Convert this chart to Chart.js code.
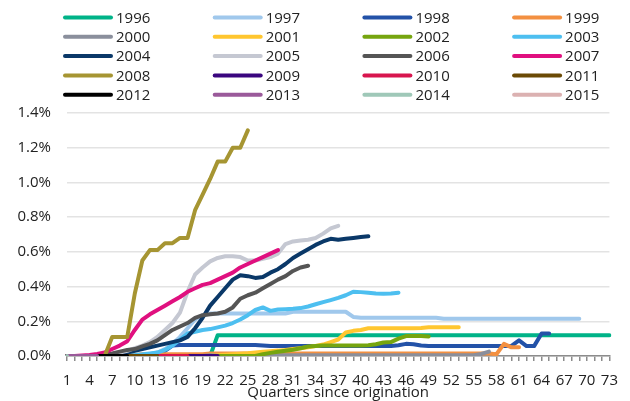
<!DOCTYPE html>
<html>
<head>
<meta charset="utf-8">
<script src="https://cdn.jsdelivr.net/npm/chart.js@4.4.0/dist/chart.umd.min.js"></script>
<style>
    body { margin: 0; background: #fff; }
</style>
</head>
<body>

<canvas id="vintageChart" width="630" height="401"></canvas>

<script>

    // quarters since origination (x categories) and the ones that get a label
    const quarters = [1, 2, 3, 4, 5, 6, 7, 8, 9, 10, 11, 12, 13, 14, 15, 16, 17, 18, 19, 20,
        21, 22, 23, 24, 25, 26, 27, 28, 29, 30, 31, 32, 33, 34, 35, 36, 37, 38, 39, 40,
        41, 42, 43, 44, 45, 46, 47, 48, 49, 50, 51, 52, 53, 54, 55, 56, 57, 58, 59, 60,
        61, 62, 63, 64, 65, 66, 67, 68, 69, 70, 71, 72, 73];
    const xTickLabels = [1, 4, 7, 10, 13, 16, 19, 22, 25, 28, 31, 34, 37, 40, 43, 46, 49, 52, 55, 58, 61, 64, 67, 70, 73];

    const vintages = ["1996", "1997", "1998", "1999", "2000", "2001", "2002", "2003", "2004", "2005",
        "2006", "2007", "2008", "2009", "2010", "2011", "2012", "2013", "2014", "2015"];

    // cumulative loss rate in %, one value per quarter
    const v1996 = [0, 0, 0, 0, 0, 0, 0, 0, 0, 0, 0, 0, 0, 0, 0, 0, 0, 0, 0, 0,
        0.12, 0.12, 0.12, 0.12, 0.12, 0.12, 0.12, 0.12, 0.12, 0.12,
        0.12, 0.12, 0.12, 0.12, 0.12, 0.12, 0.12, 0.12, 0.12, 0.12,
        0.12, 0.12, 0.12, 0.12, 0.12, 0.12, 0.12, 0.12, 0.12, 0.12,
        0.12, 0.12, 0.12, 0.12, 0.12, 0.12, 0.12, 0.12, 0.12, 0.12,
        0.12, 0.12, 0.12, 0.12, 0.12, 0.12, 0.12, 0.12, 0.12, 0.12,
        0.12, 0.12, 0.12];
    const v1997 = [0, 0, 0, 0, 0, 0, 0, 0, 0, 0,
        0.005, 0.01, 0.02, 0.04, 0.07, 0.11, 0.16, 0.21, 0.235, 0.245,
        0.245, 0.245, 0.245, 0.245, 0.245, 0.245, 0.245, 0.245, 0.245, 0.245,
        0.255, 0.255, 0.255, 0.255, 0.255, 0.255, 0.255, 0.255, 0.225,
        0.22, 0.22, 0.22, 0.22, 0.22, 0.22, 0.22, 0.22, 0.22, 0.22, 0.22,
        0.215, 0.215, 0.215, 0.215, 0.215, 0.215, 0.215, 0.215, 0.215, 0.215,
        0.215, 0.215, 0.215, 0.215, 0.215, 0.215, 0.215, 0.215, 0.215];
    const v1998 = [0, 0, 0, 0, 0, 0, 0, 0, 0, 0, 0, 0, 0,
        0.03, 0.06,
        0.063, 0.063, 0.063, 0.063, 0.063, 0.063, 0.063, 0.063, 0.063, 0.063, 0.063,
        0.06, 0.057,
        0.057, 0.057, 0.057, 0.057, 0.057, 0.057, 0.057, 0.057, 0.057, 0.057, 0.057, 0.057, 0.057, 0.057, 0.057, 0.057,
        0.062, 0.07, 0.068, 0.06,
        0.058, 0.058, 0.058, 0.058, 0.058, 0.058, 0.058, 0.058, 0.058, 0.058, 0.058, 0.058,
        0.09, 0.057, 0.057, 0.13, 0.13];
    const v1999 = [0, 0, 0, 0, 0, 0, 0, 0, 0,
        0.005, 0.01, 0.01, 0.01, 0.01, 0.01, 0.01, 0.01, 0.01, 0.01,
        0.015, 0.015, 0.015, 0.015, 0.015, 0.015, 0.015, 0.015, 0.015, 0.015,
        0.015, 0.015, 0.015, 0.015, 0.015, 0.015, 0.015, 0.015, 0.015, 0.015,
        0.015, 0.015, 0.015, 0.015, 0.015, 0.015, 0.015, 0.015, 0.015, 0.015,
        0.015, 0.015, 0.015, 0.015, 0.015, 0.015, 0.015, 0.015,
        0.01, 0.07, 0.05, 0.05];
    const v2000 = [0, 0, 0, 0, 0, 0, 0, 0, 0, 0, 0, 0, 0, 0, 0, 0, 0, 0, 0,
        0.005, 0.005, 0.005, 0.005, 0.005, 0.005, 0.005, 0.005, 0.005, 0.005,
        0.005, 0.005, 0.005, 0.005, 0.005, 0.005, 0.005, 0.005, 0.005, 0.005,
        0.005, 0.005, 0.005, 0.005, 0.005, 0.005, 0.005, 0.005, 0.005, 0.005,
        0.005, 0.005, 0.005, 0.005, 0.005, 0.005,
        0.012, 0.025];
    const v2001 = [0, 0, 0, 0, 0, 0, 0, 0, 0, 0, 0, 0, 0, 0, 0, 0, 0, 0, 0, 0,
        0.004, 0.007, 0.01, 0.013, 0.016, 0.02, 0.024, 0.028, 0.031, 0.035,
        0.04, 0.045, 0.05, 0.058, 0.066, 0.08, 0.095, 0.135, 0.145, 0.15,
        0.16, 0.16, 0.16, 0.16, 0.16, 0.16, 0.16, 0.162,
        0.165, 0.165, 0.165, 0.165, 0.165];
    const v2002 = [0, 0, 0, 0, 0, 0, 0, 0, 0, 0, 0, 0, 0, 0, 0, 0, 0, 0, 0, 0, 0, 0, 0, 0, 0, 0,
        0.01, 0.018, 0.024, 0.03, 0.036, 0.045, 0.055, 0.058,
        0.06, 0.06, 0.06, 0.06, 0.06, 0.06,
        0.062, 0.068, 0.078, 0.08,
        0.1, 0.115, 0.115, 0.115, 0.113];
    const v2003 = [0, 0, 0, 0, 0, 0, 0, 0,
        0.003, 0.006, 0.01, 0.015, 0.02, 0.035, 0.06, 0.095, 0.13, 0.14,
        0.15, 0.155, 0.165, 0.175, 0.19, 0.21, 0.235, 0.265, 0.28, 0.26,
        0.268, 0.27, 0.272, 0.276, 0.285, 0.298, 0.31, 0.322, 0.335, 0.35,
        0.37, 0.368, 0.364, 0.36, 0.359, 0.36, 0.365];
    const v2004 = [0, 0, 0, 0, 0, 0,
        0.005, 0.01, 0.02, 0.03, 0.04, 0.05, 0.06, 0.07, 0.08, 0.09,
        0.11, 0.16, 0.22, 0.29, 0.34, 0.39, 0.44, 0.465, 0.46, 0.45,
        0.455, 0.48, 0.5, 0.53, 0.565, 0.59, 0.615, 0.64, 0.66, 0.675,
        0.67, 0.675, 0.68, 0.685, 0.69];
    const v2005 = [0, 0, 0, 0, 0,
        0.005, 0.01, 0.02, 0.03, 0.045, 0.06, 0.08, 0.11, 0.15, 0.19,
        0.25, 0.37, 0.47, 0.51, 0.545, 0.565, 0.575, 0.575, 0.57, 0.55,
        0.55, 0.56, 0.57, 0.59, 0.645, 0.66, 0.665, 0.67, 0.68, 0.705,
        0.735, 0.75];
    const v2006 = [0, 0, 0, 0,
        0.005, 0.01, 0.015, 0.025, 0.035, 0.04, 0.055, 0.07, 0.09, 0.12,
        0.15, 0.17, 0.19, 0.22, 0.235, 0.24, 0.245, 0.255, 0.28, 0.33,
        0.35, 0.365, 0.39, 0.415, 0.44, 0.46, 0.49, 0.51, 0.52];
    const v2007 = [0, 0, 0.003, 0.006, 0.012, 0.02, 0.04, 0.06, 0.085, 0.15,
        0.21, 0.24, 0.265, 0.29, 0.315, 0.34, 0.37, 0.39, 0.41, 0.42,
        0.44, 0.46, 0.48, 0.51, 0.53, 0.55, 0.57, 0.59, 0.61];
    const v2008 = [0, 0, 0, 0, 0, 0, 0.11, 0.11, 0.11, 0.36,
        0.55, 0.61, 0.61, 0.65, 0.65, 0.68, 0.68, 0.84, 0.93, 1.02,
        1.12, 1.12, 1.2, 1.2, 1.3];
    const v2009 = [0, 0, 0, 0, 0, 0, 0, 0, 0, 0, 0, 0, 0, 0, 0, 0, 0, 0, 0, 0, 0];
    const v2010 = [0, 0, 0, 0, 0, 0, 0, 0, 0, 0, 0, 0, 0, 0, 0, 0, 0];
    const v2011 = [0, 0, 0, 0, 0, 0, 0, 0, 0, 0, 0, 0, 0];
    const v2012 = [0, 0, 0, 0, 0, 0, 0, 0, 0];
    const v2013 = [0, 0, 0, 0, 0];
    const v2014 = [0];
    const v2015 = [];

    const series = [v1996, v1997, v1998, v1999, v2000, v2001, v2002, v2003, v2004, v2005,
        v2006, v2007, v2008, v2009, v2010, v2011, v2012, v2013, v2014, v2015];

    let lineColors = ["#00b388", "#a0c8ec", "#2352a8", "#f39041", "#8a8f9c", "#ffc62f", "#76a50f", "#4dbff0",
        "#0a3868", "#c5c8d2", "#555555", "#e0107f", "#a69532", "#3a067f", "#d8154e", "#6b4a05",
        "#000000", "#9a5a9a", "#9fc8b8", "#dbb1b1"];

    const fontFamily = "'Open Sans', sans-serif";
    const textColor = "#222222";

    // legend in 4 columns drawn above the plot
    const legendGrid = {
        id: 'legendGrid',
        afterDraw(chart) {
            const ctx = chart.ctx;
            ctx.save();
            ctx.font = "15px " + fontFamily;
            ctx.textBaseline = 'middle';
            ctx.lineWidth = 4;
            ctx.lineCap = 'round';
            chart.data.datasets.forEach((ds, i) => {
                const x = 65 + (i % 4) * 149.7;
                const y = 17.5 + Math.floor(i / 4) * 19.3;
                ctx.strokeStyle = ds.borderColor;
                ctx.beginPath();
                ctx.moveTo(x, y);
                ctx.lineTo(x + 46, y);
                ctx.stroke();
                ctx.fillStyle = textColor;
                ctx.fillText(ds.label, x + 51, y + 1);
            });
            ctx.restore();
        }
    };

    new Chart("vintageChart", {
        type: "line",
        data: {
            labels: quarters,
            datasets: vintages.map((v, i) => ({
                label: v,
                data: series[i],
                borderColor: lineColors[i],
                backgroundColor: lineColors[i],
                borderWidth: 4,
                borderCapStyle: 'round',
                borderJoinStyle: 'round',
                pointRadius: 0,
                tension: 0,
                // later vintages are drawn on top
                order: vintages.length - i
            }))
        },
        options: {
            responsive: false,
            animation: false,
            layout: {
                padding: {left: 0, right: 8, top: 113, bottom: 1}
            },
            plugins: {
                legend: {display: false},
                tooltip: {enabled: false}
            },
            scales: {
                x: {
                    afterFit: scale => { scale.height = 44; },
                    grid: {drawOnChartArea: false, drawTicks: true, tickLength: 5, color: '#8c8c8c', lineWidth: 1.5},
                    border: {display: true, color: '#8c8c8c', width: 1.5},
                    ticks: {
                        autoSkip: false,
                        maxRotation: 0,
                        minRotation: 0,
                        padding: 12,
                        color: textColor,
                        font: {family: fontFamily, size: 15, lineHeight: 1},
                        callback: function (value) {
                            const q = this.getLabelForValue(value);
                            return xTickLabels.includes(q) ? String(q) : '';
                        }
                    },
                    title: {
                        display: true,
                        text: 'Quarters since origination',
                        color: textColor,
                        font: {family: fontFamily, size: 15, lineHeight: 1},
                        padding: {top: 0, bottom: 0}
                    }
                },
                y: {
                    afterFit: scale => { scale.width = 67; },
                    min: 0,
                    max: 1.4,
                    grid: {color: '#e3e3e3', lineWidth: 1.5, drawTicks: false},
                    border: {display: false},
                    ticks: {
                        stepSize: 0.2,
                        padding: 16,
                        color: textColor,
                        font: {family: fontFamily, size: 15},
                        callback: v => v.toFixed(1) + '%'
                    }
                }
            }
        },
        plugins: [legendGrid]
    });

</script>
</body>
</html>
